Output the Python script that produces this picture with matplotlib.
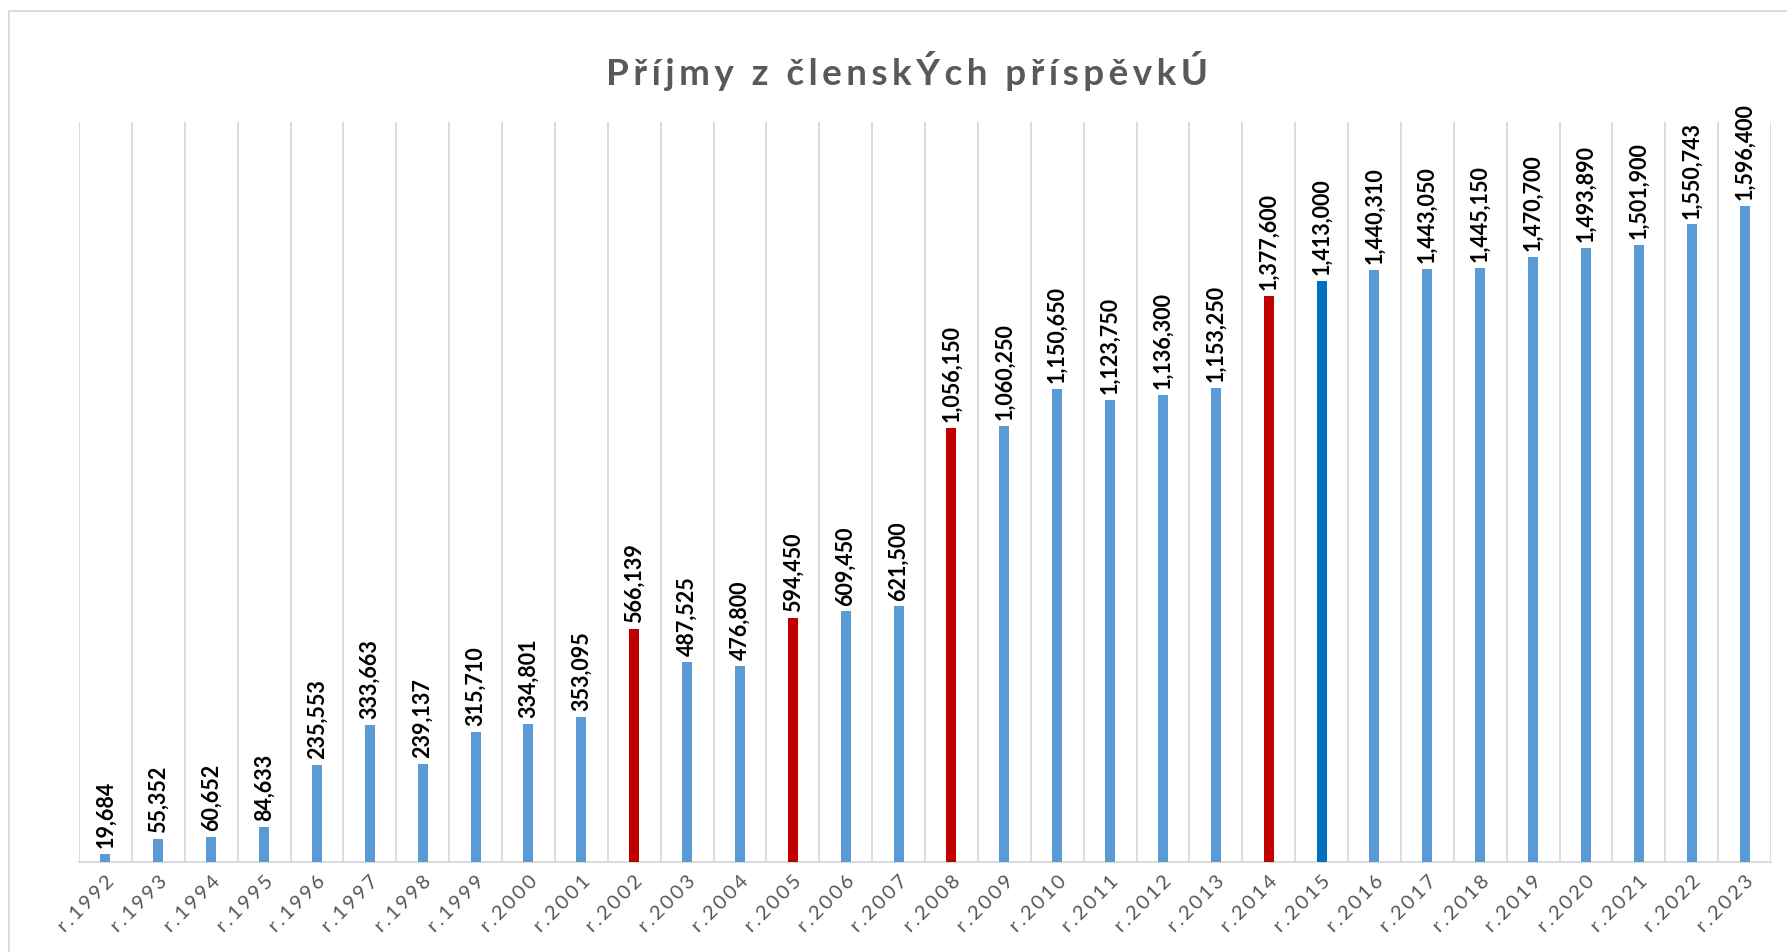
import matplotlib
matplotlib.use("Agg")
import matplotlib.pyplot as plt
from matplotlib.lines import Line2D

years = list(range(1992, 2024))
categories = [f"r.{y}" for y in years]
values = [19684, 55352, 60652, 84633, 235553, 333663, 239137, 315710, 334801, 353095,
          566139, 487525, 476800, 594450, 609450, 621500, 1056150, 1060250, 1150650,
          1123750, 1136300, 1153250, 1377600, 1413000, 1440310, 1443050, 1445150,
          1470700, 1493890, 1501900, 1550743, 1596400]
red_years = [2002, 2005, 2008, 2014]
dark_years = [2015]
title = "Příjmy z členskÝch příspěvkÚ"

BLUE = "#5B9BD5"
RED = "#C00000"
DARK = "#0070C0"
GRID = "#D9D9D9"
TEXT = "#595959"

HAIR = "\u200a"


def spaced(s, n=1):
    # emulate the wide character spacing of the original
    return (HAIR * n).join(s)


colors = [RED if y in red_years else DARK if y in dark_years else BLUE for y in years]

plt.rcParams['font.family'] = ['Lato', 'DejaVu Sans']

fig = plt.figure(figsize=(17.87, 9.53), dpi=100)
ax = fig.add_axes([79/1787, 90/953, (1771-79)/1787, (863-123)/953])

x = list(range(len(values)))
bars = ax.bar(x, values, width=0.19, color=colors, zorder=3)

ax.set_xlim(-0.5, len(values) - 0.5)
ax.set_ylim(0, 1800000)

# vertical gridlines at category boundaries
for b in range(len(values) + 1):
    ax.axvline(b - 0.5, color=GRID, lw=1.3, zorder=1)

for s in ['top', 'right', 'left']:
    ax.spines[s].set_visible(False)
ax.spines['bottom'].set_color(GRID)
ax.spines['bottom'].set_linewidth(1.3)
ax.set_yticks([])
ax.tick_params(axis='x', length=0, pad=7)
ax.set_xticks(x)
ax.set_xticklabels([spaced(c, 2) for c in categories], rotation=45, ha='right', va='top',
                   rotation_mode='anchor', fontsize=14.5, color="#555555")

for xi, v in zip(x, values):
    ax.annotate(f"{v:,}", xy=(xi, v), xytext=(0, 5), textcoords='offset points',
                rotation=90, ha='center', va='bottom', fontsize=15.5,
                fontweight='bold', color='black')

fig.text(907/1787, 1 - 71/953, spaced(title, 2), ha='center', va='center', fontsize=26.5,
         fontweight='bold', color=TEXT)

# chart-area border (top and left visible)
fig.add_artist(Line2D([9/1787, 1], [1 - 12/953, 1 - 12/953], transform=fig.transFigure,
                      color=GRID, lw=1.3))
fig.add_artist(Line2D([9/1787, 9/1787], [0, 1 - 12/953], transform=fig.transFigure,
                      color=GRID, lw=1.3))

fig.savefig("out.png", dpi=100, facecolor='white')
